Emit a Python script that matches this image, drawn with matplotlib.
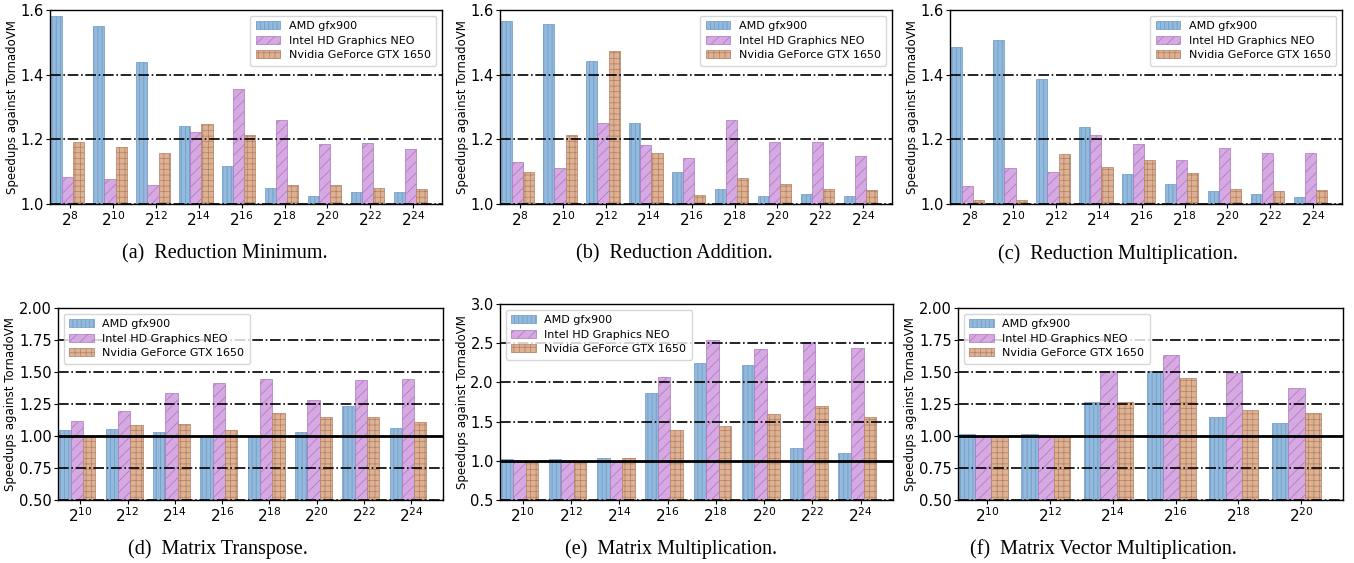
import numpy as np
import matplotlib
matplotlib.use("Agg")
import matplotlib.pyplot as plt

plt.rcParams['hatch.linewidth'] = 0.5

devices = ['AMD gfx900', 'Intel HD Graphics NEO', 'Nvidia GeForce GTX 1650']
face_colors = ['#93b9dc', '#d6a9e2', '#deb193']
edge_colors = ['#6a98c4', '#a677bd', '#b08064']
hatches = ['||||', '///', '+++']

# sizes (powers of two)
red_sizes = [8, 10, 12, 14, 16, 18, 20, 22, 24]
mt_sizes = [10, 12, 14, 16, 18, 20, 22, 24]
mv_sizes = [10, 12, 14, 16, 18, 20]

# (a) Reduction Minimum
red_min_amd = [1.581, 1.551, 1.440, 1.240, 1.116, 1.050, 1.026, 1.038, 1.038]
red_min_intel = [1.085, 1.077, 1.058, 1.224, 1.355, 1.260, 1.185, 1.188, 1.169]
red_min_nvidia = [1.193, 1.177, 1.157, 1.248, 1.213, 1.058, 1.058, 1.050, 1.046]

# (b) Reduction Addition
red_add_amd = [1.567, 1.557, 1.443, 1.250, 1.098, 1.046, 1.024, 1.030, 1.026]
red_add_intel = [1.129, 1.110, 1.250, 1.181, 1.141, 1.260, 1.193, 1.193, 1.149]
red_add_nvidia = [1.098, 1.214, 1.474, 1.158, 1.029, 1.080, 1.062, 1.047, 1.043]

# (c) Reduction Multiplication
red_mul_amd = [1.485, 1.507, 1.387, 1.237, 1.094, 1.063, 1.039, 1.030, 1.023]
red_mul_intel = [1.055, 1.110, 1.098, 1.213, 1.185, 1.137, 1.173, 1.157, 1.157]
red_mul_nvidia = [1.013, 1.013, 1.155, 1.113, 1.137, 1.096, 1.047, 1.039, 1.043]

# (d) Matrix Transpose
transpose_amd = [1.043, 1.053, 1.030, 1.011, 1.000, 1.032, 1.236, 1.061]
transpose_intel = [1.121, 1.196, 1.335, 1.413, 1.444, 1.283, 1.436, 1.444]
transpose_nvidia = [0.995, 1.087, 1.095, 1.043, 1.178, 1.147, 1.147, 1.113]

# (e) Matrix Multiplication
matmul_amd = [1.023, 1.023, 1.040, 1.869, 2.247, 2.218, 1.159, 1.095]
matmul_intel = [0.990, 0.990, 0.990, 2.065, 2.541, 2.426, 2.520, 2.443]
matmul_nvidia = [0.990, 0.990, 1.040, 1.389, 1.440, 1.601, 1.703, 1.554]

# (f) Matrix Vector Multiplication
matvec_amd = [1.016, 1.016, 1.262, 1.504, 1.147, 1.100]
matvec_intel = [1.000, 1.000, 1.510, 1.630, 1.496, 1.373]
matvec_nvidia = [1.000, 1.000, 1.262, 1.450, 1.204, 1.178]

panels = [
    (red_sizes, [red_min_amd, red_min_intel, red_min_nvidia], (1.0, 1.6), [1.0, 1.2, 1.4, 1.6], '(a)  Reduction Minimum.'),
    (red_sizes, [red_add_amd, red_add_intel, red_add_nvidia], (1.0, 1.6), [1.0, 1.2, 1.4, 1.6], '(b)  Reduction Addition.'),
    (red_sizes, [red_mul_amd, red_mul_intel, red_mul_nvidia], (1.0, 1.6), [1.0, 1.2, 1.4, 1.6], '(c)  Reduction Multiplication.'),
    (mt_sizes, [transpose_amd, transpose_intel, transpose_nvidia], (0.5, 2.0), [0.5, 0.75, 1.0, 1.25, 1.5, 1.75, 2.0], '(d)  Matrix Transpose.'),
    (mt_sizes, [matmul_amd, matmul_intel, matmul_nvidia], (0.5, 3.0), [0.5, 1.0, 1.5, 2.0, 2.5, 3.0], '(e)  Matrix Multiplication.'),
    (mv_sizes, [matvec_amd, matvec_intel, matvec_nvidia], (0.5, 2.0), [0.5, 0.75, 1.0, 1.25, 1.5, 1.75, 2.0], '(f)  Matrix Vector Multiplication.'),
]

# axes boxes in pixels: left, top, right, bottom
W, H = 1354, 563
boxes = [
    (50, 10, 442, 204), (500, 10, 892, 204), (950, 10, 1342, 204),
    (58, 308, 443, 500), (500, 304, 893, 500), (958, 308, 1343, 500),
]
caption_x = [225, 674, 1118, 218, 671, 1103]

fig = plt.figure(figsize=(W / 100, H / 100), dpi=100)

for k, ((sizes, series, ylim, yticks, caption), (l, t, r, b)) in enumerate(zip(panels, boxes)):
    ax = fig.add_axes([l / W, 1 - b / H, (r - l) / W, (b - t) / H])
    x = np.arange(len(sizes))
    w = 0.26
    for j, vals in enumerate(series):
        ax.bar(x + (j - 1) * w, vals, w, color=face_colors[j], edgecolor=edge_colors[j],
               hatch=hatches[j], linewidth=0.5, label=devices[j], zorder=2)
    ax.set_ylim(*ylim)
    ax.set_yticks(yticks)
    fmt = '%.2f' if k in (3, 5) else '%.1f'
    ax.set_yticklabels([fmt % v for v in yticks], fontsize=10.5)
    ax.set_xticks(x + 0.07)
    ax.set_xticklabels(['$2^{%d}$' % s for s in sizes], fontsize=11)
    ax.set_xlim(-1.5 * w - 0.01, len(sizes) - 1 + 1.5 * w + 0.35)
    ax.set_ylabel('Speedups against TornadoVM', fontsize=8.5, labelpad=1)
    for yv in yticks:
        if k >= 3 and yv == 1.0:
            ax.axhline(yv, color='k', linewidth=2, zorder=3)
        else:
            ax.axhline(yv, color='k', linestyle='-.', linewidth=1.2, zorder=3)
    for sp in ax.spines.values():
        sp.set_linewidth(1.0)
    ax.tick_params(axis='both', length=3, pad=1.5)
    loc = 'upper right' if k < 3 else 'upper left'
    ax.legend(loc=loc, fontsize=8, handlelength=2.2, borderpad=0.5, labelspacing=0.4)
    fig.text(caption_x[k] / W, 1 - (254 if k < 3 else 549) / H, caption,
             ha='center', va='center', fontsize=14.5, family='Liberation Serif')

fig.savefig('out.png', dpi=100)
